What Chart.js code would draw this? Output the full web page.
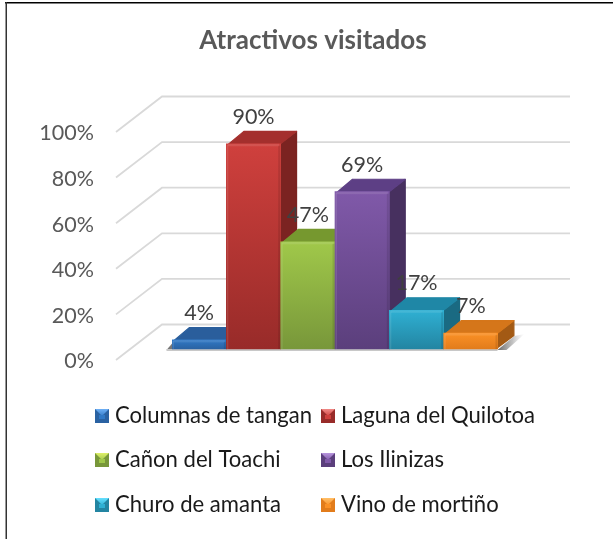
<!DOCTYPE html>
<html><head><meta charset="utf-8">
<style>html,body{margin:0;padding:0;background:#fff}canvas{display:block}</style>
<script src="https://cdn.jsdelivr.net/npm/chart.js@4"></script>
</head><body><canvas id="c" width="613" height="539"></canvas>
<script>
const titleText = 'Atractivos visitados';
const categories = ['Columnas de tangan','Laguna del Quilotoa','Cañon del Toachi','Los Ilinizas','Churo de amanta','Vino de mortiño'];
const values = [4,90,47,69,17,7];
const percentTicks = [0,20,40,60,80,100];
const frontTop = ['#3079c6','#cf403d','#a0c84a','#8059a9','#2fb0d3','#fb9126'];
const frontBottom = ['#2a62a2','#982b29','#78973a','#5b3f7c','#2385a2','#e27c1b'];
const topFace = ['#2a5e9c','#a42f2d','#76982f','#5d3f85','#1f87a6','#d5761a'];
const sideFace = ['#1f4776','#7b2321','#587224','#47305f','#1a6a82','#a35a14'];
const swatchLight = ['#6fb0f5','#f08a87','#dff06a','#b795dd','#66e0ff','#ffc06a'];
const FONT = 'Lato, Carlito, sans-serif';
const BAR = {depthX:17, depthY:13};
const WALL = {backX:162, axisX:116, rightX:570, backOff:-24.5, axisOff:11};

function barRects(chart){
  return chart.getDatasetMeta(0).data.map(b=>{
    const p=b.getProps(['x','y','base','width'],true);
    return {l:p.x-p.width/2+.5,r:p.x+p.width/2-.5,t:p.y,b:p.base};
  });
}
const scene = {
  id:'scene',
  beforeDatasetsDraw(chart){
    const c=chart.ctx, y=chart.scales.y;
    c.save();
    // frame
    c.fillStyle='#000';
    c.fillRect(5,2,608,1.5);
    c.fillStyle='#333';
    c.fillRect(5.5,2,1.5,537);
    // wall grid
    c.strokeStyle='#d9d9d9'; c.lineWidth=1.8;
    percentTicks.forEach(v=>{
      const py=y.getPixelForValue(v);
      c.beginPath();
      c.moveTo(WALL.axisX,py+WALL.axisOff);
      c.lineTo(WALL.backX,py+WALL.backOff);
      c.lineTo(WALL.rightX,py+WALL.backOff);
      c.stroke();
    });
    const rects=barRects(chart), first=rects[0], last=rects[rects.length-1];
    // floor shadow
    let g=c.createLinearGradient(last.r,0,last.r+27,0);
    g.addColorStop(0,'rgba(50,50,50,.75)'); g.addColorStop(.55,'rgba(100,100,100,.4)'); g.addColorStop(1,'rgba(160,160,160,0)');
    c.fillStyle=g;
    c.beginPath();
    c.moveTo(last.r,last.b+1); c.lineTo(last.r+BAR.depthX,last.b-BAR.depthY);
    c.lineTo(last.r+27,last.b-BAR.depthY-2); c.lineTo(last.r+9,last.b+1); c.closePath(); c.fill();
    c.fillStyle='#777';
    c.beginPath();
    c.moveTo(first.l,first.b-6);c.lineTo(first.l-6,first.b+1);c.lineTo(first.l,first.b+1);c.closePath();c.fill();
    c.fillStyle='#c8c8c8';
    c.fillRect(first.l-6,first.b,last.r-first.l+6,2);
    // depth faces
    c.lineJoin='round'; c.lineWidth=1.2;
    rects.forEach((r,i)=>{
      const dx=BAR.depthX, dy=BAR.depthY;
      c.fillStyle=sideFace[i]; c.strokeStyle=sideFace[i];
      c.beginPath();
      c.moveTo(r.r-1,r.t+1); c.lineTo(r.r+dx-.6,r.t-dy+.6); c.lineTo(r.r+dx-.6,r.b-dy-.6); c.lineTo(r.r-1,r.b-.6); c.closePath(); c.fill(); c.stroke();
      c.fillStyle=topFace[i]; c.strokeStyle=topFace[i];
      c.beginPath();
      c.moveTo(r.l+1,r.t+1); c.lineTo(r.l+dx,r.t-dy+.6); c.lineTo(r.r+dx-.6,r.t-dy+.6); c.lineTo(r.r-1,r.t+1); c.closePath(); c.fill(); c.stroke();
    });
    c.restore();
  },
  afterDatasetsDraw(chart){
    const c=chart.ctx;
    c.save();
    const rects=barRects(chart);
    rects.forEach((r,i)=>{
      // bevel
      c.fillStyle='rgba(255,255,255,.10)';
      c.fillRect(r.l+1,r.t,r.r-r.l-2,2.5);
      c.fillRect(r.l,r.t+1,1.5,r.b-r.t-1);
      c.fillStyle='rgba(0,0,0,.10)';
      c.fillRect(r.r-2,r.t+2,2,r.b-r.t-2);
      // data label
      c.fillStyle='#404040';
      c.font='21.5px '+FONT;
      c.textAlign='center'; c.textBaseline='middle';
      c.fillText(values[i]+'%',(r.l+r.r)/2,r.t-27);
    });
    // legend
    const cols=[95,321], rows=[416,460,505], s=14;
    categories.forEach((name,i)=>{
      const x0=cols[i%2], yc=rows[Math.floor(i/2)];
      const y0=yc-s/2;
      const g=c.createLinearGradient(0,y0,0,y0+s);
      g.addColorStop(0,swatchLight[i]); g.addColorStop(.55,frontTop[i]); g.addColorStop(1,frontBottom[i]);
      c.fillStyle=frontBottom[i]; c.fillRect(x0,y0,s,s);
      c.fillStyle=g;
      c.beginPath(); c.moveTo(x0,y0); c.lineTo(x0+s,y0); c.lineTo(x0+s/2,y0+s/2); c.closePath(); c.fill();
      c.fillStyle=frontTop[i];
      c.fillRect(x0+s/2-3,y0+s/2-1,6,4);
      c.fillStyle='#1a1a1a';
      c.font='22.1px '+FONT;
      c.textAlign='left'; c.textBaseline='middle';
      c.fillText(name,x0+s+6,yc);
    });
    c.restore();
  }
};

new Chart(document.getElementById('c'),{
  type:'bar',
  data:{labels:categories,datasets:[{
    data:values,
    barPercentage:1,categoryPercentage:1,
    borderWidth:0,
    backgroundColor(ctx){
      const i=ctx.dataIndex, y=ctx.chart.scales.y;
      if(i===undefined||!y) return frontTop[0];
      const t=y.getPixelForValue(values[i]), b=y.getPixelForValue(0);
      if(!isFinite(t)||!isFinite(b)||t===b) return frontTop[i];
      const g=ctx.chart.ctx.createLinearGradient(0,t,0,b);
      g.addColorStop(0,frontTop[i]); g.addColorStop(1,frontBottom[i]);
      return g;
    }
  }]},
  options:{
    responsive:false,animation:false,
    layout:{padding:{left:13,right:0,top:0,bottom:177}},
    plugins:{
      legend:{display:false},tooltip:{enabled:false},
      title:{display:true,text:titleText,color:'#595959',
        font:{family:FONT,size:26,weight:'bold',lineHeight:1.2},
        padding:{top:25,bottom:43.8}}
    },
    scales:{
      x:{display:false},
      y:{display:false,position:'left',min:-5.70,max:109.2},
      axis:{position:'left',min:-0.22,max:114.69,
        afterFit(s){s.width=159;},
        afterBuildTicks(s){s.ticks=percentTicks.map(v=>({value:v}));},
        grid:{display:false},border:{display:false},
        ticks:{padding:70,color:'#595959',font:{family:FONT,size:21.5},callback:v=>v+'%'}},
      spacer:{position:'right',afterFit(s){s.width=115;},
        grid:{display:false},border:{display:false},ticks:{display:false}}
    }
  },
  plugins:[scene]
});
</script></body></html>
